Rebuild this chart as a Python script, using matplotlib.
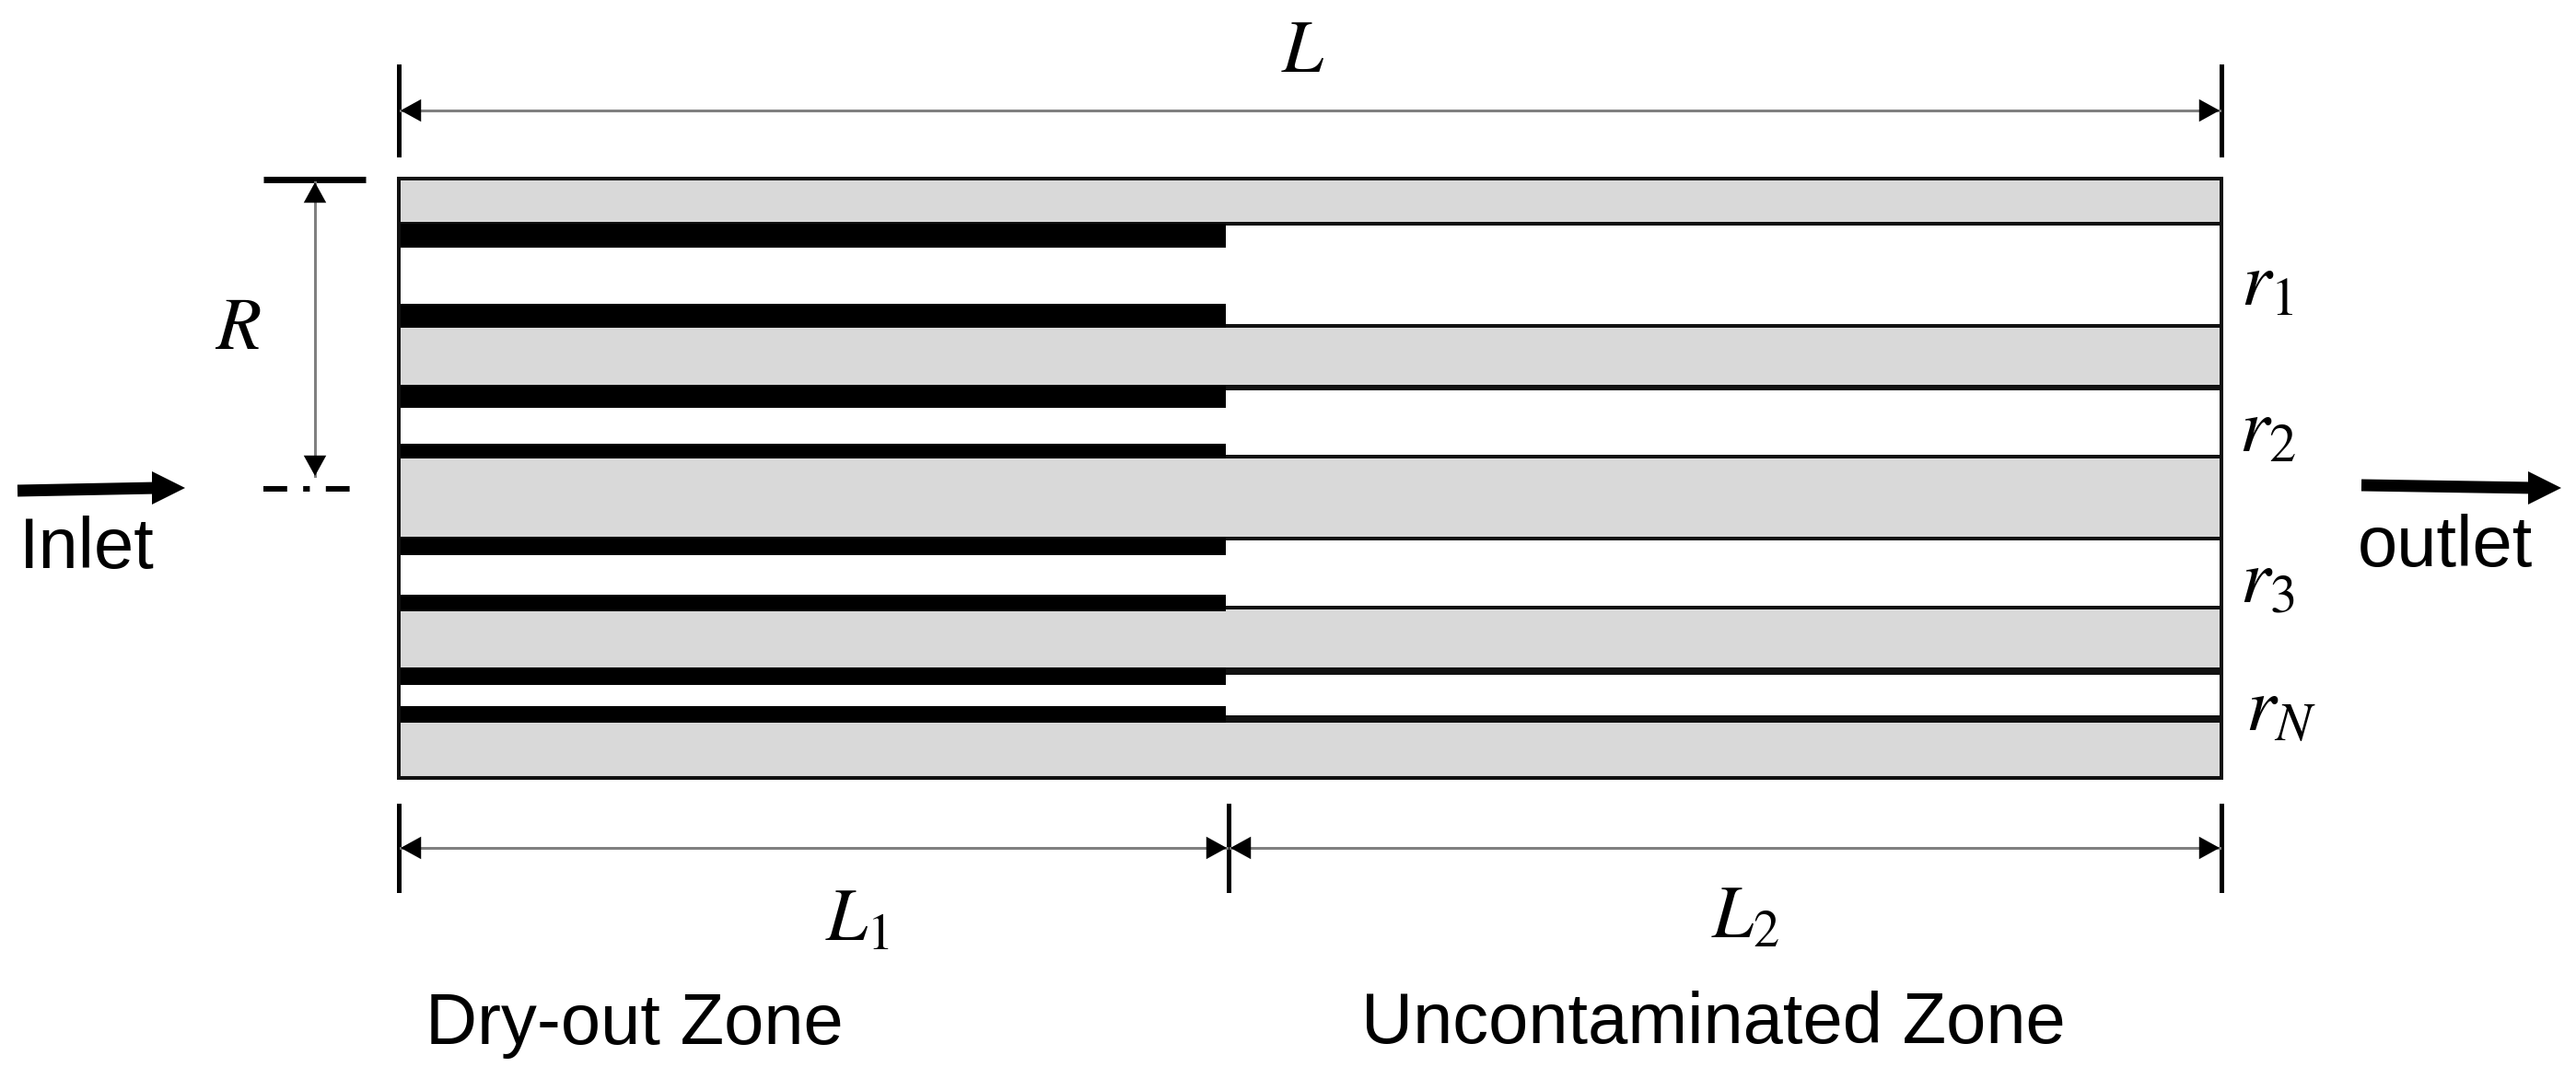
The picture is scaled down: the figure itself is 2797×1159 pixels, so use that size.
import matplotlib
matplotlib.use('Agg')
import matplotlib.pyplot as plt
from matplotlib.patches import Rectangle, Polygon

plt.rcParams['font.family'] = ['Liberation Sans', 'DejaVu Sans']
plt.rcParams['mathtext.fontset'] = 'stix'

W, H = 2797, 1159

# everything below is in picture pixels
box_x = [433, 2412]
box_y = [194, 845]
dry_end = 1331
split_x = 1334

channel_top = [243, 421, 585, 729]
channel_bottom = [354, 496, 660, 781]
wall_top_lw = [4, 6, 4, 8]
wall_bottom_lw = [4, 4, 4, 8]
deposit_top = [[243, 269], [418, 443], [583, 603], [725, 744]]
deposit_bottom = [[330, 356], [482, 498], [646, 664], [767, 785]]

r_labels = ['$r_1$', '$r_2$', '$r_3$', '$r_N$']
r_label_x = [2462, 2462, 2462, 2476]
r_label_y = [309, 469, 632, 771]

zone_labels = ['Dry-out Zone', 'Uncontaminated Zone']
zone_x = [689, 1860]
zone_y = 1113

GREY = '#d9d9d9'


def px(n):
    return n * 72 / 100


def dim_arrow(ax, p0, p1):
    ax.plot([p0[0], p1[0]], [p0[1], p1[1]], color='#808080', lw=px(3))
    ax.annotate('', xy=p1, xytext=p0,
                arrowprops=dict(arrowstyle='<|-|>,head_length=0.4,head_width=0.22',
                                mutation_scale=40, lw=0, shrinkA=0, shrinkB=0,
                                fc='black', ec='none'))


def fat_arrow(ax, x0, y0, x1, y1):
    ax.plot([x0, x1 - 30], [y0, y1], color='black', lw=px(13), solid_capstyle='butt')
    ax.add_patch(Polygon([[x1 - 36, y1 - 18], [x1, y1], [x1 - 36, y1 + 18]], fc='black', ec='none'))


fig = plt.figure(figsize=(W / 100, H / 100), dpi=100)
ax = fig.add_axes([0, 0, 1, 1])
ax.set_xlim(0, W)
ax.set_ylim(H, 0)
ax.axis('off')

# porous block
ax.add_patch(Rectangle((box_x[0], box_y[0]), box_x[1] - box_x[0], box_y[1] - box_y[0],
                       fc=GREY, ec='none', zorder=1))

for i in range(len(channel_top)):
    ax.add_patch(Rectangle((box_x[0], channel_top[i]), box_x[1] - box_x[0],
                           channel_bottom[i] - channel_top[i], fc='white', ec='none', zorder=2))
    ax.plot(box_x, [channel_top[i]] * 2, color='#111111', lw=px(wall_top_lw[i]), zorder=3,
            solid_capstyle='butt')
    ax.plot(box_x, [channel_bottom[i]] * 2, color='#111111', lw=px(wall_bottom_lw[i]), zorder=3,
            solid_capstyle='butt')
    for d in (deposit_top[i], deposit_bottom[i]):
        ax.add_patch(Rectangle((box_x[0], d[0]), dry_end - box_x[0], d[1] - d[0],
                               fc='black', ec='none', zorder=4))

ax.add_patch(Rectangle((box_x[0], box_y[0]), box_x[1] - box_x[0], box_y[1] - box_y[0],
                       fc='none', ec='#111111', lw=px(4), zorder=5))

# dimension L
ax.plot([box_x[0]] * 2, [72, 168], color='black', lw=px(5))
ax.plot([box_x[1]] * 2, [72, 168], color='black', lw=px(5))
dim_arrow(ax, (box_x[0] + 2, 120), (box_x[1] - 2, 120))
ax.text(1415, 57, '$L$', fontsize=58, ha='center', va='center')

# dimension R
ax.plot([286, 397], [195, 195], color='black', lw=px(7), solid_capstyle='butt')
ax.plot([286, 380], [531, 531], color='black', lw=px(6), ls=(0, (4.3, 2.9, 1.2, 2.9)))
dim_arrow(ax, (342, 198), (342, 517))
ax.text(258, 358, '$R$', fontsize=58, ha='center', va='center')

# dimensions L1 and L2
for x in [box_x[0], split_x, box_x[1]]:
    ax.plot([x, x], [875, 967], color='black', lw=px(5))
dim_arrow(ax, (box_x[0] + 2, 921), (split_x - 2, 921))
dim_arrow(ax, (split_x + 2, 921), (box_x[1] - 2, 921))
ax.text(931, 1000, '$L_1$', fontsize=58, ha='center', va='center')
ax.text(1895, 997, '$L_2$', fontsize=58, ha='center', va='center')

for lab, x, y in zip(r_labels, r_label_x, r_label_y):
    ax.text(x, y, lab, fontsize=60, ha='center', va='center')

for lab, x in zip(zone_labels, zone_x):
    ax.text(x, zone_y, lab, fontsize=56, ha='center', va='center')

# flow arrows
fat_arrow(ax, 19, 533, 201, 530)
fat_arrow(ax, 2564, 527, 2781, 530)
ax.text(94, 597, 'Inlet', fontsize=56, ha='center', va='center')
ax.text(2655, 595, 'outlet', fontsize=56, ha='center', va='center')

fig.savefig('out.png', dpi=100, facecolor='white')
